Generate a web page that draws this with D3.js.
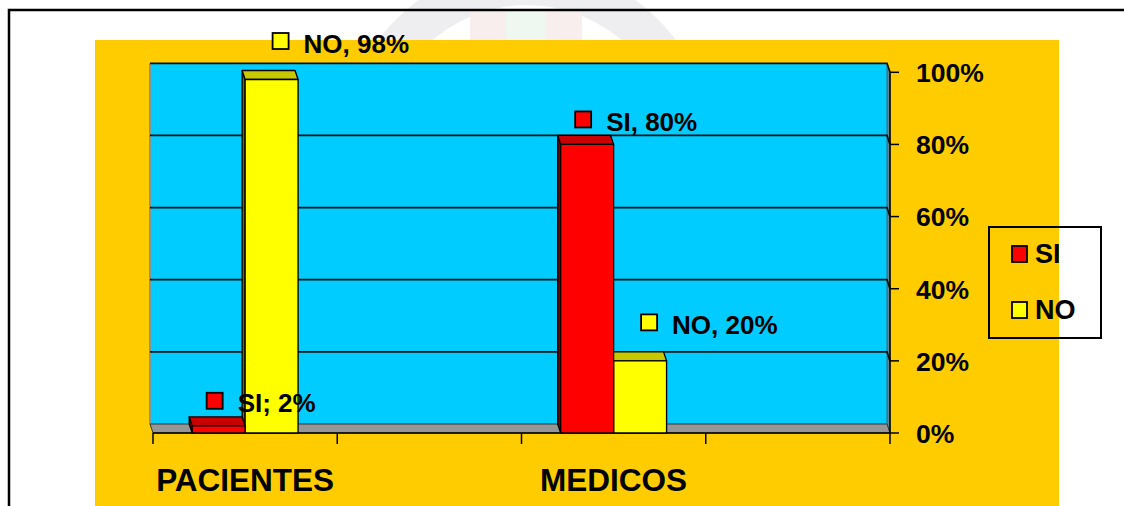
<!DOCTYPE html>
<html>
<head>
<meta charset="utf-8">
<script src="https://cdn.jsdelivr.net/npm/d3@7/dist/d3.min.js"></script>
<style>
  html, body { margin: 0; padding: 0; background: #fff; }
  svg { display: block; }
  text { font-family: "Liberation Sans", Arial, sans-serif; font-weight: bold; fill: #000; }
</style>
</head>
<body>
<svg id="chart" width="1124" height="506"></svg>
<script>
// Categories on the x axis (two unnamed slots keep the Excel-style spacing)
const categories = ["PACIENTES", "", "MEDICOS", ""];
const seriesNames = ["SI", "NO"];
const siValues = [2, null, 80, null];
const noValues = [98, null, 20, null];
// separator used in each point's data label
const siLabelSep = [";", null, ",", null];
const noLabelSep = [",", null, ",", null];
const yTicks = [0, 20, 40, 60, 80, 100];

const seriesValues = { SI: siValues, NO: noValues };
const seriesSep = { SI: siLabelSep, NO: noLabelSep };

const style = {
  SI: { front: "#FF0000", top: "#C80000", side: "#7A0000", labelDx: -12, labelDy: -33 },
  NO: { front: "#FFFF00", top: "#C8C800", side: "#6E6E00", labelDx: 1, labelDy: -46.5 }
};

const svg = d3.select("#chart");
const W = 1124, H = 506;

// 3D depth offset of the back wall relative to the front plane
const DX = -3, DY = -9;

const x = d3.scaleBand().domain(d3.range(categories.length)).range([153, 890]).paddingInner(0).paddingOuter(0);
const xs = d3.scaleBand().domain(seriesNames).range([0, x.bandwidth()]).paddingInner(0).paddingOuter(0.74);
const y = d3.scaleLinear().domain([0, 100]).range([433, 72.3]);

// faint emblem in the background above the plot
const wm = svg.append("g").attr("opacity", 0.3);
wm.append("circle").attr("cx", 527).attr("cy", 150).attr("r", 165)
  .attr("fill", "none").attr("stroke", "#c8c8d4").attr("stroke-width", 40);
wm.append("rect").attr("x", 470).attr("y", 10).attr("width", 36).attr("height", 30).attr("fill", "#ecc8c8");
wm.append("rect").attr("x", 506).attr("y", 10).attr("width", 40).attr("height", 30).attr("fill", "#cde6d2");
wm.append("rect").attr("x", 546).attr("y", 10).attr("width", 36).attr("height", 30).attr("fill", "#ecc8c8");

// orange chart area
svg.append("rect").attr("x", 95).attr("y", 40).attr("width", 964).attr("height", H)
  .attr("fill", "#FFCC00");

// outer frame
svg.append("rect").attr("x", 9).attr("y", 10).attr("width", W + 20).attr("height", H + 20)
  .attr("fill", "none").attr("stroke", "#000").attr("stroke-width", 2.5);

const x0 = x.range()[0], x1 = x.range()[1];
const y0 = y(0), yTop = y(100);

// back wall
svg.append("rect")
  .attr("x", x0 + DX).attr("y", yTop + DY)
  .attr("width", (x1 + DX) - (x0 + DX)).attr("height", y0 - yTop)
  .attr("fill", "#00CCFF");
svg.append("line")
  .attr("x1", x0 + DX).attr("x2", x0 + DX).attr("y1", yTop + DY).attr("y2", y0 + DY)
  .attr("stroke", "#7f98a0").attr("stroke-width", 2);

// right side wall
svg.append("polygon")
  .attr("points", [[x1 + DX, yTop + DY], [x1, yTop], [x1, y0], [x1 + DX, y0 + DY]].join(" "))
  .attr("fill", "#5f8796").attr("stroke", "#3d5560").attr("stroke-width", 0.8);

// floor
svg.append("polygon")
  .attr("points", [[x0 + DX, y0 + DY], [x1 + DX, y0 + DY], [x1, y0], [x0, y0]].join(" "))
  .attr("fill", "#969696").attr("stroke", "#333").attr("stroke-width", 1);

// gridlines on the back and side walls
const grid = svg.append("g");
yTicks.filter(t => t > 0).forEach(t => {
  grid.append("polyline")
    .attr("points", [[x0 + DX, y(t) + DY], [x1 + DX, y(t) + DY], [x1, y(t)]].join(" "))
    .attr("fill", "none").attr("stroke", "#111").attr("stroke-width", 1.7);
});

// value axis on the right
const yAxis = svg.append("g");
yAxis.append("line").attr("x1", x1).attr("x2", x1).attr("y1", yTop).attr("y2", y0)
  .attr("stroke", "#000").attr("stroke-width", 1.5);
yTicks.forEach(t => {
  yAxis.append("line").attr("x1", x1).attr("x2", x1 + 9).attr("y1", y(t)).attr("y2", y(t))
    .attr("stroke", "#000").attr("stroke-width", 1.5);
  yAxis.append("text").attr("x", 916).attr("y", y(t)).attr("dy", "0.37em")
    .attr("font-size", 26.5).text(t + "%");
});

// category axis
const xAxis = svg.append("g");
xAxis.append("line").attr("x1", x0).attr("x2", x1).attr("y1", y0).attr("y2", y0)
  .attr("stroke", "#000").attr("stroke-width", 1.5);
d3.range(categories.length + 1).forEach(i => {
  const xt = x0 + i * x.step();
  xAxis.append("line").attr("x1", xt).attr("x2", xt).attr("y1", y0).attr("y2", y0 + 11)
    .attr("stroke", "#000").attr("stroke-width", 1.5);
});
categories.forEach((c, i) => {
  if (!c) return;
  xAxis.append("text").attr("x", x(i) + x.bandwidth() / 2).attr("y", 491)
    .attr("text-anchor", "middle").attr("font-size", 31.5).text(c);
});

// 3D bars: NO drawn first so SI's front face overlaps its side face
const bars = svg.append("g");
["NO", "SI"].forEach(s => {
  const st = style[s];
  seriesValues[s].forEach((v, i) => {
    if (v == null) return;
    const bx = x(i) + xs(s), bw = xs.bandwidth(), by = y(v);
    const g = bars.append("g").attr("stroke", "#000").attr("stroke-width", 1.3).attr("stroke-linejoin", "round");
    g.append("polygon")
      .attr("points", [[bx, by], [bx + DX, by + DY], [bx + DX, y0 + DY], [bx, y0]].join(" "))
      .attr("fill", st.side);
    g.append("polygon")
      .attr("points", [[bx, by], [bx + bw, by], [bx + bw + DX, by + DY], [bx + DX, by + DY]].join(" "))
      .attr("fill", st.top);
    g.append("rect").attr("x", bx).attr("y", by).attr("width", bw).attr("height", y0 - by)
      .attr("fill", st.front);
  });
});

// data labels with series key
const labels = svg.append("g");
seriesNames.forEach(s => {
  const st = style[s];
  seriesValues[s].forEach((v, i) => {
    if (v == null) return;
    const cx = x(i) + xs(s) + xs.bandwidth() / 2;
    const sx = cx + st.labelDx, sy = y(v) + st.labelDy;
    labels.append("rect").attr("x", sx).attr("y", sy).attr("width", 16).attr("height", 16)
      .attr("fill", st.front).attr("stroke", "#000").attr("stroke-width", 1.8);
    labels.append("text").attr("x", sx + 31).attr("y", sy + 19.5)
      .attr("font-size", 26).text(`${s}${seriesSep[s][i]} ${v}%`);
  });
});

// legend
const legend = svg.append("g");
legend.append("rect").attr("x", 989).attr("y", 227).attr("width", 112).attr("height", 111)
  .attr("fill", "none").attr("stroke", "#000").attr("stroke-width", 2);
seriesNames.forEach((s, k) => {
  const ly = 246 + k * 56;
  legend.append("rect").attr("x", 1012).attr("y", ly).attr("width", 15).attr("height", 16)
    .attr("fill", style[s].front).attr("stroke", "#000").attr("stroke-width", 1.8);
  legend.append("text").attr("x", 1035).attr("y", ly + 17).attr("font-size", 27).text(s);
});
</script>
</body>
</html>
